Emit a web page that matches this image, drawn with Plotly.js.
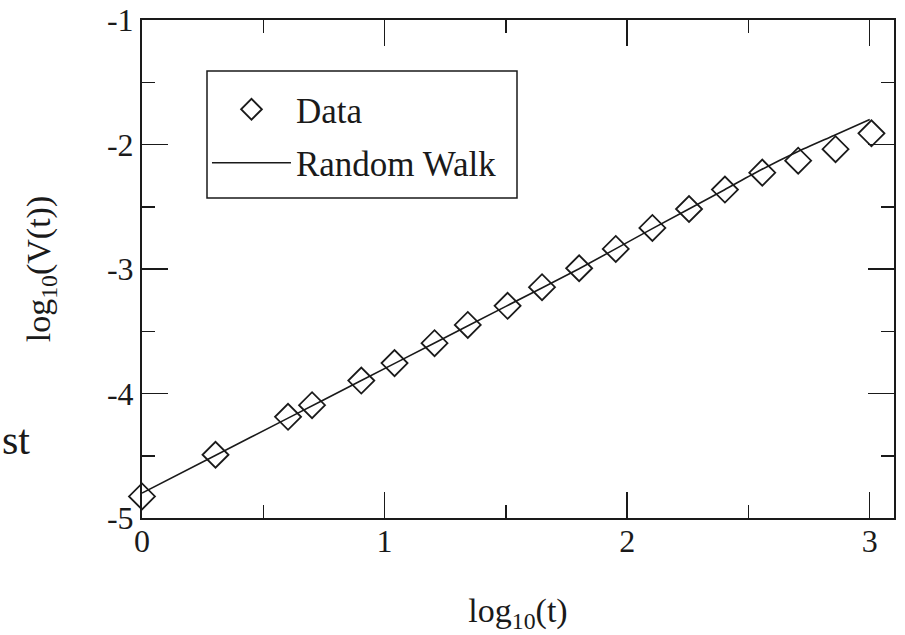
<!DOCTYPE html>
<html>
<head>
<meta charset="utf-8">
<script src="https://cdn.plot.ly/plotly-3.0.1.min.js"></script>
<style>
  html, body { margin: 0; padding: 0; background: #fff; }
  #chart { width: 905px; height: 635px; }
</style>
</head>
<body>
<div id="chart"></div>
<script>
// Measured variance: log10(t) against log10(V(t))
const dataLogT = [0, 0.303, 0.602, 0.701, 0.904, 1.041, 1.206, 1.343, 1.507, 1.649,
                  1.802, 1.953, 2.104, 2.255, 2.403, 2.557, 2.705, 2.859, 3.007];
const dataLogV = [-4.827, -4.492, -4.187, -4.094, -3.896, -3.756, -3.596, -3.449, -3.296, -3.146,
                  -2.994, -2.839, -2.670, -2.518, -2.362, -2.226, -2.130, -2.038, -1.910];

// Random-walk model curve
const walkLogT = [0, 0.3, 0.6, 0.9, 1.2, 1.5, 1.8, 2.1, 2.4, 2.55, 2.7, 2.85, 3.0];
const walkLogV = [-4.80, -4.50, -4.20, -3.90, -3.60, -3.30, -3.00, -2.68, -2.365, -2.205, -2.06, -1.93, -1.80];

// Axis ticks
const xTickVals = [0, 1, 2, 3];
const xTickText = ['0', '1', '2', '3'];
const yTickVals = [-5, -4, -3, -2, -1];
const yTickText = ['-5', '-4', '-3', '-2', '-1'];

const serif = 'Liberation Serif';
const ink = '#1a1a1a';

const traces = [
  {
    x: dataLogT, y: dataLogV, name: 'Data', type: 'scatter', mode: 'markers',
    legendgroup: 'data', cliponaxis: false,
    marker: { symbol: 'diamond-open', size: 20, color: ink, line: { width: 1.8, color: ink } }
  },
  {
    x: walkLogT, y: walkLogV, name: 'Random Walk', type: 'scatter', mode: 'lines',
    legendgroup: 'walk',
    line: { color: ink, width: 1.6, shape: 'spline', smoothing: 0.6 }
  }
];

const axisCommon = {
  showgrid: false, zeroline: false,
  showline: true, linecolor: ink, linewidth: 2,
  mirror: 'ticks', ticks: 'inside', ticklen: 26, tickwidth: 1.5, tickcolor: ink,
  tickmode: 'array',
  tickfont: { family: serif, size: 32, color: ink },
  minor: { ticks: 'inside', ticklen: 13, tickwidth: 1.5, tickcolor: ink, dtick: 0.5 }
};

const layout = {
  width: 905, height: 635,
  margin: { l: 142, r: 11, t: 20, b: 117 },
  paper_bgcolor: '#fff', plot_bgcolor: '#fff',
  font: { family: serif, color: ink },
  showlegend: true,
  xaxis: Object.assign({}, axisCommon, {
    range: [0, 3.1], tickvals: xTickVals, ticktext: xTickText,
    ticklabelstandoff: -6,
    title: { text: 'log<sub>10</sub>(t)', font: { family: serif, size: 34, color: ink }, standoff: 40 }
  }),
  yaxis: Object.assign({}, axisCommon, {
    range: [-5, -1], tickvals: yTickVals, ticktext: yTickText,
    title: { text: 'log<sub>10</sub>(V(t))', font: { family: serif, size: 34, color: ink }, standoff: 46 }
  }),
  legend: {
    x: 0.0864, y: 0.8795, xanchor: 'left', yanchor: 'top',
    bgcolor: 'rgba(0,0,0,0)', borderwidth: 0,
    font: { family: serif, size: 35, color: ink },
    itemwidth: 79, tracegroupgap: 5
  },
  shapes: [
    // legend frame
    { type: 'rect', xref: 'paper', yref: 'paper', layer: 'below',
      x0: (207 - 142) / 752, x1: (517 - 142) / 752,
      y0: 1 - (198 - 20) / 498, y1: 1 - (71 - 20) / 498,
      line: { color: ink, width: 1.5 }, fillcolor: '#fff' }
  ],
  annotations: [
    { text: 'st', xref: 'paper', yref: 'paper', x: -0.189, y: 0.157,
      xanchor: 'left', yanchor: 'middle', showarrow: false,
      font: { family: serif, size: 42, color: ink } }
  ]
};

Plotly.newPlot('chart', traces, layout, { staticPlot: true, displayModeBar: false });
</script>
</body>
</html>
